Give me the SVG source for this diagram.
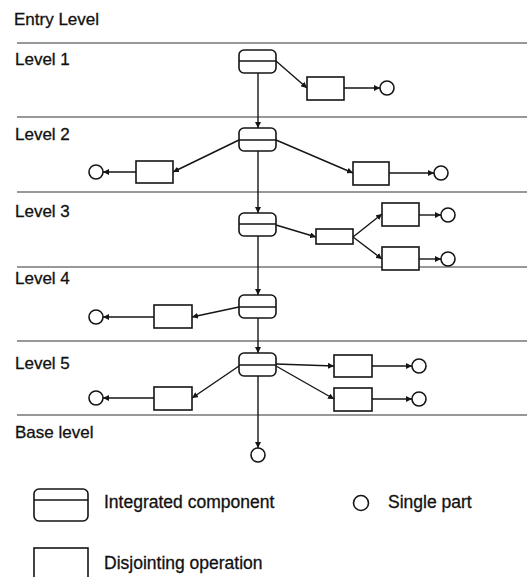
<svg xmlns="http://www.w3.org/2000/svg" width="527" height="577" viewBox="0 0 527 577">
  <style>
    .bg { fill: #ffffff; }
    .sep { stroke: #333333; stroke-width: 1.2; }
    .lbl { font-family: "Liberation Sans", Arial, sans-serif; font-size: 17px; fill: #111111; stroke: #111111; stroke-width: 0.3; }
    .ic { fill: #ffffff; stroke: #151515; stroke-width: 1.6; }
    .icmid { stroke: #151515; stroke-width: 1.4; }
    .op { fill: #ffffff; stroke: #151515; stroke-width: 1.6; }
    .part { fill: #ffffff; stroke: #151515; stroke-width: 1.6; }
    .edge { fill: none; stroke: #151515; stroke-width: 1.4; marker-end: url(#arr); }
  </style>
  <defs>
    <marker id="arr" viewBox="0 0 10 10" refX="10" refY="5" markerWidth="6" markerHeight="6" markerUnits="userSpaceOnUse" orient="auto">
      <path d="M0,0 L10,5 L0,10 z" fill="#151515"/>
    </marker>
  </defs>
  <rect class="bg" x="0" y="0" width="527" height="577"/>

  <!-- level bands -->
  <g id="levels">
    <line class="sep" x1="17" y1="43" x2="527" y2="43"/>
    <line class="sep" x1="17" y1="117" x2="527" y2="117"/>
    <line class="sep" x1="17" y1="192" x2="527" y2="192"/>
    <line class="sep" x1="17" y1="267" x2="527" y2="267"/>
    <line class="sep" x1="17" y1="341" x2="527" y2="341"/>
    <line class="sep" x1="17" y1="415" x2="527" y2="415"/>
    <text class="lbl" x="14" y="25">Entry Level</text>
    <text class="lbl" x="15" y="65">Level 1</text>
    <text class="lbl" x="15" y="140">Level 2</text>
    <text class="lbl" x="15" y="217">Level 3</text>
    <text class="lbl" x="15" y="284">Level 4</text>
    <text class="lbl" x="15" y="369">Level 5</text>
    <text class="lbl" x="15" y="438">Base level</text>
  </g>

  <!-- connectors -->
  <g id="connectors">
    <!-- main spine -->
    <line class="edge" x1="258" y1="73" x2="258" y2="128"/>
    <line class="edge" x1="258" y1="151" x2="258" y2="213"/>
    <line class="edge" x1="258" y1="236" x2="258" y2="295"/>
    <line class="edge" x1="258" y1="318" x2="258" y2="353"/>
    <line class="edge" x1="258" y1="376" x2="258" y2="448"/>
    <!-- level 1 -->
    <line class="edge" x1="276" y1="61" x2="307" y2="88"/>
    <line class="edge" x1="344" y1="88" x2="380" y2="88"/>
    <!-- level 2 -->
    <line class="edge" x1="239" y1="140" x2="173" y2="172"/>
    <line class="edge" x1="136" y1="172" x2="103" y2="172"/>
    <line class="edge" x1="276" y1="140" x2="353" y2="173"/>
    <line class="edge" x1="389" y1="173" x2="434" y2="173"/>
    <!-- level 3 -->
    <line class="edge" x1="276" y1="225" x2="316" y2="237"/>
    <line class="edge" x1="353" y1="237" x2="382" y2="214"/>
    <line class="edge" x1="353" y1="237" x2="382" y2="259"/>
    <line class="edge" x1="419" y1="215" x2="441" y2="215"/>
    <line class="edge" x1="419" y1="259" x2="441" y2="259"/>
    <!-- level 4 -->
    <line class="edge" x1="239" y1="307" x2="192" y2="317"/>
    <line class="edge" x1="154" y1="317" x2="103" y2="317"/>
    <!-- level 5 -->
    <line class="edge" x1="276" y1="364" x2="334" y2="366"/>
    <line class="edge" x1="276" y1="366" x2="334" y2="399"/>
    <line class="edge" x1="239" y1="366" x2="192" y2="398"/>
    <line class="edge" x1="372" y1="366" x2="412" y2="366"/>
    <line class="edge" x1="372" y1="399" x2="412" y2="399"/>
    <line class="edge" x1="154" y1="398" x2="103" y2="398"/>
  </g>

  <!-- integrated components -->
  <g id="ic1"><rect class="ic" x="239" y="50" width="37" height="23" rx="5"/><line class="icmid" x1="239" y1="61" x2="276" y2="61"/></g>
  <g id="ic2"><rect class="ic" x="239" y="128" width="37" height="23" rx="5"/><line class="icmid" x1="239" y1="140" x2="276" y2="140"/></g>
  <g id="ic3"><rect class="ic" x="239" y="213" width="37" height="23" rx="5"/><line class="icmid" x1="239" y1="224" x2="276" y2="224"/></g>
  <g id="ic4"><rect class="ic" x="239" y="295" width="37" height="23" rx="5"/><line class="icmid" x1="239" y1="307" x2="276" y2="307"/></g>
  <g id="ic5"><rect class="ic" x="239" y="353" width="37" height="23" rx="5"/><line class="icmid" x1="239" y1="365" x2="276" y2="365"/></g>

  <!-- disjointing operations -->
  <g id="op1"><rect class="op" x="307" y="77" width="37" height="23"/></g>
  <g id="op2a"><rect class="op" x="136" y="161" width="37" height="22"/></g>
  <g id="op2b"><rect class="op" x="353" y="162" width="36" height="23"/></g>
  <g id="op3a"><rect class="op" x="316" y="229" width="37" height="15"/></g>
  <g id="op3b"><rect class="op" x="382" y="203" width="37" height="23"/></g>
  <g id="op3c"><rect class="op" x="382" y="247" width="37" height="23"/></g>
  <g id="op4"><rect class="op" x="154" y="305" width="38" height="23"/></g>
  <g id="op5a"><rect class="op" x="334" y="355" width="38" height="22"/></g>
  <g id="op5b"><rect class="op" x="334" y="388" width="38" height="23"/></g>
  <g id="op5c"><rect class="op" x="154" y="387" width="38" height="23"/></g>

  <!-- single parts -->
  <g id="p1"><circle class="part" cx="387" cy="88" r="7"/></g>
  <g id="p2a"><circle class="part" cx="96" cy="172" r="7"/></g>
  <g id="p2b"><circle class="part" cx="441" cy="173" r="7"/></g>
  <g id="p3a"><circle class="part" cx="448" cy="215" r="7"/></g>
  <g id="p3b"><circle class="part" cx="448" cy="259" r="7"/></g>
  <g id="p4"><circle class="part" cx="96" cy="317" r="7"/></g>
  <g id="p5a"><circle class="part" cx="419" cy="366" r="7"/></g>
  <g id="p5b"><circle class="part" cx="419" cy="399" r="7"/></g>
  <g id="p5c"><circle class="part" cx="96" cy="398" r="7"/></g>
  <g id="pbase"><circle class="part" cx="258" cy="455" r="7"/></g>

  <!-- legend -->
  <g id="legend">
    <rect class="ic" x="34" y="489" width="54" height="32" rx="5"/>
    <line class="icmid" x1="34" y1="500" x2="88" y2="500"/>
    <text class="lbl" x="104" y="508" style="font-size:17.5px">Integrated component</text>
    <circle class="part" cx="361" cy="503" r="7.5"/>
    <text class="lbl" x="388" y="508" style="font-size:17.5px">Single part</text>
    <rect class="op" x="34" y="548" width="54" height="40"/>
    <text class="lbl" x="104" y="569" style="font-size:17.5px">Disjointing operation</text>
  </g>
</svg>
